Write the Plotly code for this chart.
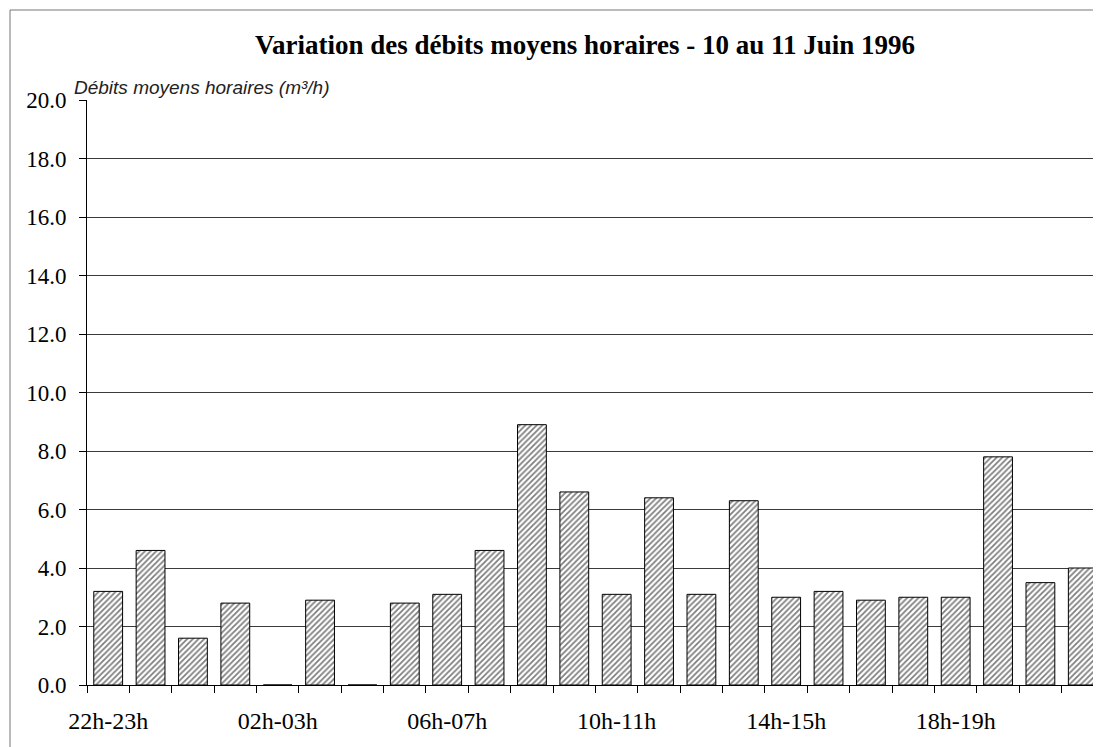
import plotly.graph_objects as go

categories = ["22h-23h", "23h-00h", "00h-01h", "01h-02h", "02h-03h", "03h-04h",
              "04h-05h", "05h-06h", "06h-07h", "07h-08h", "08h-09h", "09h-10h",
              "10h-11h", "11h-12h", "12h-13h", "13h-14h", "14h-15h", "15h-16h",
              "16h-17h", "17h-18h", "18h-19h", "19h-20h", "20h-21h", "21h-22h"]
debits = [3.2, 4.6, 1.6, 2.8, 0.0, 2.9, 0.0, 2.8, 3.1, 4.6, 8.9, 6.6,
          3.1, 6.4, 3.1, 6.3, 3.0, 3.2, 2.9, 3.0, 3.0, 7.8, 3.5, 4.0]
tick_labels = [c if i % 4 == 0 else "" for i, c in enumerate(categories)]
y_ticks = [0, 2, 4, 6, 8, 10, 12, 14, 16, 18, 20]
y_tick_text = [f"{v:.1f}" for v in y_ticks]

title_text = "Variation des débits moyens horaires - 10 au 11 Juin 1996"
y_title = "Débits moyens horaires (m³/h)"

# page has an 8px body margin: figure coordinates = page coordinates - 8
OFF = 8
W, H = 1101 - OFF, 747 - OFF
ML, MR, MT, MB = 87 - OFF, 0, 100 - OFF, 747 - 685

fig = go.Figure()
fig.add_trace(go.Bar(
    x=categories, y=debits,
    marker=dict(color="white",
                line=dict(color="black", width=1),
                pattern=dict(shape="/", fgcolor="black", bgcolor="white",
                             size=4, solidity=0.45)),
    width=0.68,
    hoverinfo="x+y",
))

serif = "Liberation Serif, Times New Roman, serif"

fig.update_layout(
    width=W, height=H,
    margin=dict(l=ML, r=MR, t=MT, b=MB, autoexpand=False),
    paper_bgcolor="white", plot_bgcolor="white",
    showlegend=False,
    title=dict(text=f"<b>{title_text}</b>",
               font=dict(family=serif, size=27, color="black"),
               x=(585 - OFF) / W, xref="container", xanchor="center",
               y=1 - (45 - OFF) / H, yref="container", yanchor="middle"),
    xaxis=dict(
        type="category",
        range=[-0.5, 23.43],
        tickmode="array", tickvals=categories, ticktext=tick_labels,
        tickson="boundaries", tickangle=0,
        ticks="outside", ticklen=7, tickcolor="black", tickwidth=1,
        showline=True, linecolor="black", linewidth=1,
        showgrid=False, automargin=False,
        tickfont=dict(family=serif, size=24, color="black"),
        ticklabelstandoff=14,
        fixedrange=True,
    ),
    yaxis=dict(
        range=[0, 20],
        tickmode="array", tickvals=y_ticks, ticktext=y_tick_text,
        ticks="outside", ticklen=7, tickcolor="black", tickwidth=1,
        showline=True, linecolor="black", linewidth=1,
        showgrid=True, gridcolor="#3a3a3a", gridwidth=1,
        zeroline=False, automargin=False,
        tickfont=dict(family=serif, size=23, color="black"),
        ticklabelstandoff=8,
        fixedrange=True,
    ),
)

pw = W - ML - MR
ph = H - MT - MB
fig.add_annotation(
    text=f"<i>{y_title}</i>",
    xref="paper", yref="paper",
    x=(72 - 87) / pw, y=1.0, xanchor="left", yanchor="bottom",
    yshift=0,
    showarrow=False,
    font=dict(family="Liberation Sans, Arial, sans-serif", size=19, color="#222"),
)

# outer chart frame (top and left edges visible)
fig.add_shape(
    type="rect", xref="paper", yref="paper",
    x0=(10 - 87) / pw, x1=1.2,
    y0=-0.3, y1=(685 - 10) / ph,
    line=dict(color="#777777", width=1),
    layer="below",
)

fig.write_html("out.html")
